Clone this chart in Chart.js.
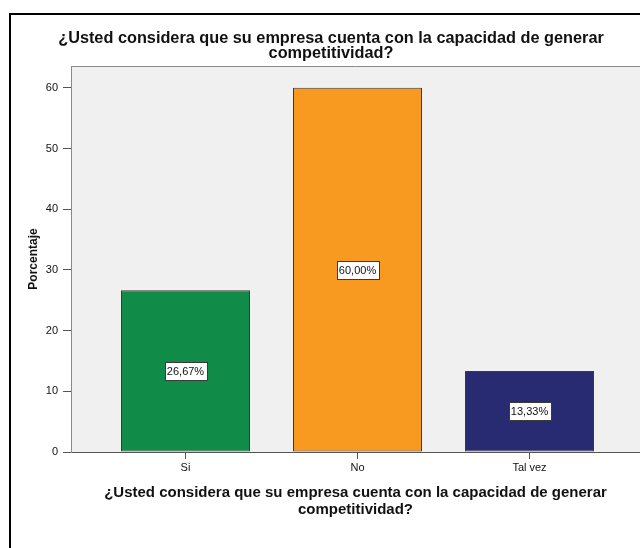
<!DOCTYPE html>
<html>
<head>
<meta charset="utf-8">
<script src="https://cdn.jsdelivr.net/npm/chart.js@4/dist/chart.umd.min.js"></script>
<style>
  html, body { margin: 0; padding: 0; background: #ffffff; }
  #wrap { width: 640px; height: 548px; position: relative; }
</style>
</head>
<body>
<div id="wrap"><canvas id="chart" width="640" height="548"></canvas></div>
<script>
// categorias y porcentajes
const categorias = ['Si', 'No', 'Tal vez'];
const porcentajes = [26.67, 60.00, 13.33];
const posiciones = [0, 1, 2];
const coloresBarras = ['#108b48', '#f89a20', '#282a72'];
const tituloPregunta = ['¿Usted considera que su empresa cuenta con la capacidad de generar', 'competitividad?'];

const fuente = '"Liberation Sans", Arial, sans-serif';
const fmt = v => v.toFixed(2).replace('.', ',') + '%';

// marco exterior y fondo gris del area de trazado
const fondoPlugin = {
  id: 'fondo',
  beforeDraw(chart) {
    const { ctx, chartArea: a } = chart;
    ctx.save();
    ctx.strokeStyle = '#000000';
    ctx.lineWidth = 2;
    ctx.strokeRect(10, 14, 700, 600);
    ctx.fillStyle = '#f0f0f0';
    ctx.fillRect(a.left, a.top, a.right - a.left, a.bottom - a.top);
    ctx.strokeStyle = '#8a8a8a';
    ctx.lineWidth = 1;
    ctx.beginPath();
    ctx.moveTo(a.left, a.top + 0.5);
    ctx.lineTo(a.right, a.top + 0.5);
    ctx.stroke();
    ctx.restore();
  }
};

// etiquetas de valor en el centro de cada barra
const etiquetasPlugin = {
  id: 'etiquetas',
  afterDatasetsDraw(chart) {
    const { ctx } = chart;
    const meta = chart.getDatasetMeta(0);
    ctx.save();
    ctx.font = '11px ' + fuente;
    ctx.textAlign = 'center';
    ctx.textBaseline = 'middle';
    meta.data.forEach((bar, i) => {
      const txt = fmt(porcentajes[i]);
      const cy = (bar.y + bar.base) / 2;
      const w = Math.round(ctx.measureText(txt).width + 5);
      const h = 18;
      const x0 = Math.round(bar.x - w / 2) + 0.5;
      const y0 = Math.round(cy - h / 2) + 0.5;
      ctx.fillStyle = '#ffffff';
      ctx.fillRect(x0, y0, w, h);
      ctx.strokeStyle = '#3a3a3a';
      ctx.lineWidth = 1;
      ctx.strokeRect(x0, y0, w, h);
      ctx.fillStyle = '#111111';
      ctx.fillText(txt, bar.x, cy + 1);
    });
    ctx.restore();
  }
};

new Chart(document.getElementById('chart'), {
  type: 'bar',
  data: {
    datasets: [{
      data: posiciones.map((p, i) => ({ x: p, y: porcentajes[i] })),
      backgroundColor: coloresBarras,
      borderColor: '#3a3a3a',
      borderWidth: 1,
      borderSkipped: false,
      categoryPercentage: 1,
      barPercentage: 0.75
    }]
  },
  options: {
    responsive: false,
    animation: false,
    layout: { padding: { left: 22, right: 0, top: 0, bottom: 0 } },
    plugins: {
      legend: { display: false },
      tooltip: { enabled: false },
      title: {
        display: true,
        text: tituloPregunta,
        color: '#111111',
        font: { size: 16.3, weight: 'bold', family: fuente, lineHeight: 15 / 16.3 },
        padding: { top: 31.5, bottom: 4.5 }
      }
    },
    scales: {
      x: {
        type: 'linear',
        min: -0.6657,
        max: 2.6424,
        offset: false,
        afterFit(scale) { scale.height = 96; },
        grid: { offset: false, drawOnChartArea: false, drawTicks: true, tickLength: 7, color: '#555555' },
        border: { color: '#555555', width: 1 },
        ticks: {
          stepSize: 1,
          includeBounds: false,
          padding: 2.4,
          color: '#111111',
          font: { size: 11, family: fuente },
          callback: v => categorias[v]
        },
        title: {
          display: true,
          text: tituloPregunta,
          color: '#111111',
          font: { size: 15, weight: 'bold', family: fuente, lineHeight: 17 / 15 },
          padding: { top: 0, bottom: 29.5 }
        }
      },
      y: {
        min: 0,
        max: 63.6,
        afterFit(scale) { scale.width = 49; },
        grid: { drawOnChartArea: false, drawTicks: true, tickLength: 8, color: '#555555' },
        border: { color: '#8a8a8a', width: 1 },
        ticks: {
          stepSize: 10,
          includeBounds: false,
          padding: 5,
          color: '#111111',
          font: { size: 11, family: fuente }
        },
        title: {
          display: true,
          text: 'Porcentaje',
          color: '#111111',
          font: { size: 12, weight: 'bold', family: fuente, lineHeight: 1.2 },
          padding: { top: 4.8, bottom: 0 }
        }
      }
    }
  },
  plugins: [fondoPlugin, etiquetasPlugin]
});
</script>
</body>
</html>
